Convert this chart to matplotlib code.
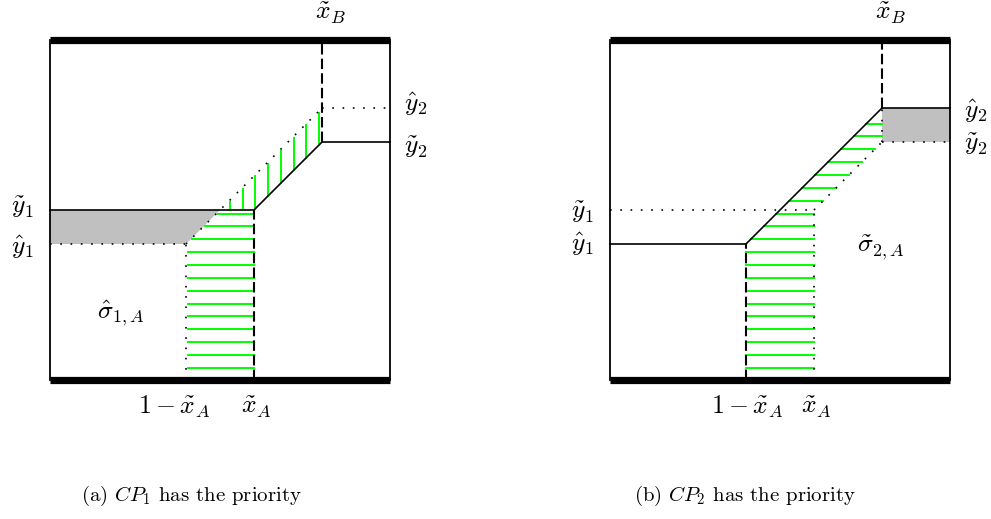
import numpy as np
import matplotlib.pyplot as plt

plt.rcParams['mathtext.fontset'] = 'cm'
plt.rcParams['lines.scale_dashes'] = False

# positions on the unit square
x_one_minus_A = 0.4
x_tilde_A = 0.6
x_tilde_B = 0.8
y_hat = [0.4, 0.8]      # y^_1, y^_2
y_tilde = [0.5, 0.7]    # y~_1, y~_2

captions = [r'(a) $CP_1$ has the priority', r'(b) $CP_2$ has the priority']
region_labels = [r'$\hat{\sigma}_{1,A}$', r'$\tilde{\sigma}_{2,A}$']
region_pos = [(0.21, 0.195), (0.797, 0.39)]

gray = '#c0c0c0'
green = '#00ff00'
dash = (0, (7.5, 3))
dot = (0, (1.2, 6.2))
hatch_step = 0.0378
hatch_start = 0.036
fs = 18.5

fig = plt.figure(figsize=(9.91, 5.19), dpi=100)
W, H = 991, 519


def make_ax(left_px):
    ax = fig.add_axes([left_px / W, (H - 380) / H, 340 / W, 340 / H])
    ax.set_xlim(0, 1)
    ax.set_ylim(0, 1)
    ax.axis('off')
    return ax


def frame(ax):
    for yy in (0, 1):
        ax.plot([0, 1], [yy, yy], color='k', lw=5.2, solid_capstyle='butt', clip_on=False, zorder=5)
    for xx in (0, 1):
        ax.plot([xx, xx], [0, 1], color='k', lw=1.3, clip_on=False, zorder=5)


def line(ax, xs, ys, ls='-', lw=1.2):
    ax.plot(xs, ys, color='k', lw=lw, ls=ls, clip_on=False, zorder=4)


def labels(ax, hat2_y, tilde2_y, tilde1_y, hat1_y, bot_left_x):
    ax.text(x_tilde_B + 0.027, 1.079, r'$\tilde{x}_B$', fontsize=fs, ha='center', va='center')
    ax.text(1.076, hat2_y, r'$\hat{y}_2$', fontsize=fs, ha='center', va='center')
    ax.text(1.076, tilde2_y, r'$\tilde{y}_2$', fontsize=fs, ha='center', va='center')
    ax.text(-0.08, tilde1_y, r'$\tilde{y}_1$', fontsize=fs, ha='center', va='center')
    ax.text(-0.08, hat1_y, r'$\hat{y}_1$', fontsize=fs, ha='center', va='center')
    ax.text(bot_left_x, -0.079, r'$1-\tilde{x}_A$', fontsize=fs, ha='center', va='center')
    ax.text(x_tilde_A + 0.006, -0.079, r'$\tilde{x}_A$', fontsize=fs, ha='center', va='center')


hatch_y = np.arange(hatch_start, 0.79, hatch_step)

# ---- panel (a) ----
ax = make_ax(50)
frame(ax)
ax.fill([0, y_tilde[0], y_hat[0], 0], [y_tilde[0], y_tilde[0], y_hat[0], y_hat[0]],
        color=gray, lw=0, zorder=1)
for yy in hatch_y[hatch_y < y_tilde[0]]:
    ax.plot([max(x_one_minus_A, yy) + 0.005, x_tilde_A], [yy, yy], color=green, lw=1.4, zorder=2)
for xx in np.arange(0.529, x_tilde_B, 0.0375):
    ax.plot([xx, xx], [max(y_tilde[0], xx - 0.1), xx - 0.005], color=green, lw=1.4, zorder=2)
line(ax, [0, x_tilde_A], [y_tilde[0], y_tilde[0]])
line(ax, [x_tilde_A, x_tilde_B], [y_tilde[0], y_tilde[1]])
line(ax, [x_tilde_B, 1], [y_tilde[1], y_tilde[1]])
line(ax, [0, x_one_minus_A], [y_hat[0], y_hat[0]], ls=dot)
line(ax, [x_one_minus_A, x_tilde_B], [y_hat[0], y_hat[1]], ls=dot)
line(ax, [x_tilde_B, 1], [y_hat[1], y_hat[1]], ls=dot)
line(ax, [x_one_minus_A, x_one_minus_A], [0, y_hat[0]], ls=dot)
line(ax, [x_tilde_A, x_tilde_A], [0, y_tilde[0]], ls=dash, lw=1.5)
line(ax, [x_tilde_B, x_tilde_B], [y_tilde[1], 1], ls=dash, lw=1.5)
labels(ax, 0.81, 0.685, 0.508, 0.39, 0.365)
ax.text(*region_pos[0], region_labels[0], fontsize=fs, ha='center', va='center')
ax.text(0.415, -0.34, captions[0], fontsize=15, family='cmr10', ha='center', va='center')

# ---- panel (b) ----
ax = make_ax(610)
frame(ax)
ax.fill([x_tilde_B, 1, 1, x_tilde_B], [y_tilde[1], y_tilde[1], y_hat[1], y_hat[1]],
        color=gray, lw=0, zorder=1)
for yy in hatch_y[hatch_y < y_hat[1]]:
    right = x_tilde_A if yy < y_tilde[0] else min(yy + 0.1, x_tilde_B)
    ax.plot([max(x_one_minus_A, yy), right], [yy, yy], color=green, lw=1.4, zorder=2)
line(ax, [0, x_one_minus_A], [y_hat[0], y_hat[0]])
line(ax, [x_one_minus_A, x_tilde_B], [y_hat[0], y_hat[1]])
line(ax, [x_tilde_B, 1], [y_hat[1], y_hat[1]])
line(ax, [0, x_tilde_A], [y_tilde[0], y_tilde[0]], ls=dot)
line(ax, [x_tilde_A, x_tilde_B], [y_tilde[0], y_tilde[1]], ls=dot)
line(ax, [x_tilde_B, 1], [y_tilde[1], y_tilde[1]], ls=dot)
line(ax, [x_tilde_B, x_tilde_B], [y_tilde[1], y_hat[1]], ls=dot)
line(ax, [x_tilde_A, x_tilde_A], [0, y_tilde[0]], ls=dot)
line(ax, [x_one_minus_A, x_one_minus_A], [0, y_hat[0]], ls=dash, lw=1.5)
line(ax, [x_tilde_B, x_tilde_B], [y_hat[1], 1], ls=dash, lw=1.5)
labels(ax, 0.79, 0.694, 0.494, 0.4, 0.403)
ax.text(*region_pos[1], region_labels[1], fontsize=fs, ha='center', va='center')
ax.text(0.397, -0.34, captions[1], fontsize=15, family='cmr10', ha='center', va='center')

fig.savefig('out.png', dpi=100)
